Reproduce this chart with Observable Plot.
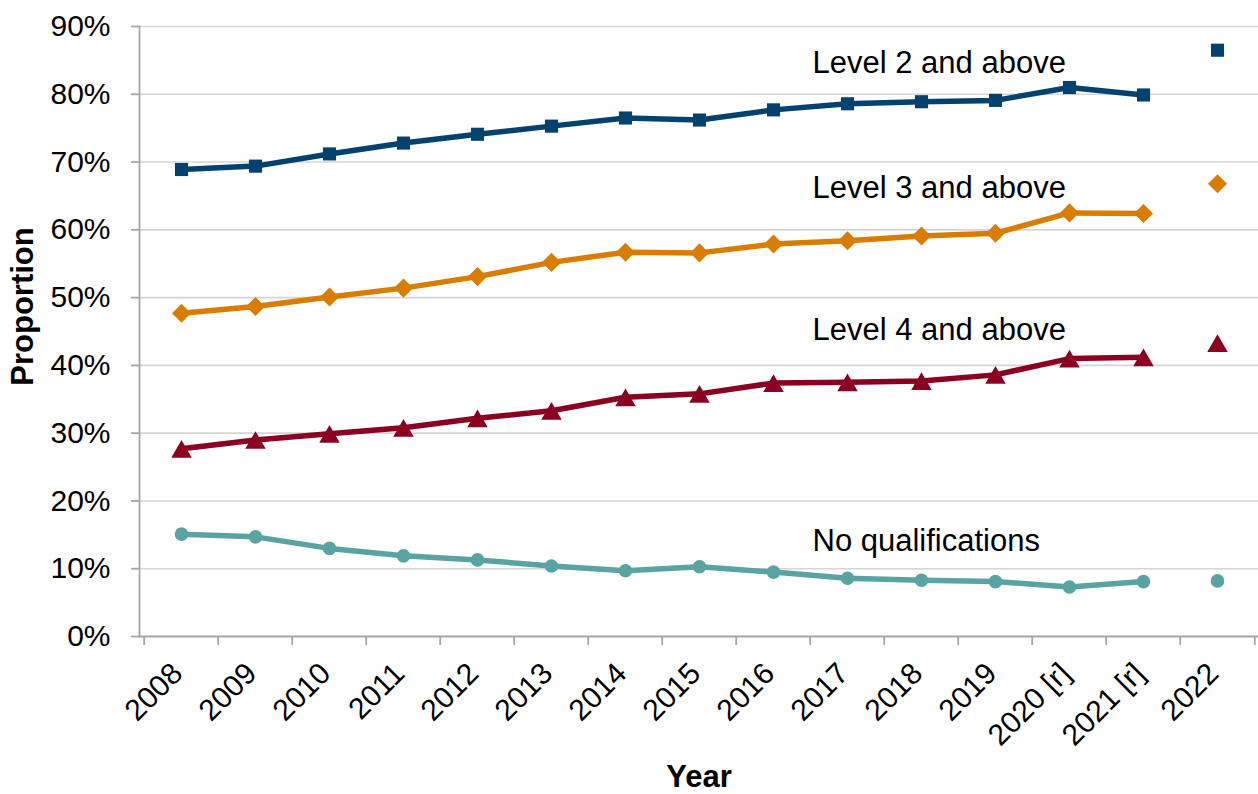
<!DOCTYPE html>
<html>
<head>
<meta charset="utf-8">
<script src="https://cdn.jsdelivr.net/npm/d3@7"></script>
<script src="https://cdn.jsdelivr.net/npm/@observablehq/plot@0.6"></script>
<style>
  html, body { margin: 0; padding: 0; background: #fff; }
  #chart svg { display: block; }
</style>
</head>
<body>
<div id="chart"></div>
<script>
// Survey years (2020 and 2021 revised); 2022 is shown unjoined
const years = ["2008", "2009", "2010", "2011", "2012", "2013", "2014", "2015",
  "2016", "2017", "2018", "2019", "2020 [r]", "2021 [r]", "2022"];

// Proportion of people holding each qualification level
const level2 = [0.689, 0.694, 0.712, 0.728, 0.741, 0.753, 0.765, 0.762, 0.777, 0.786, 0.789, 0.791, 0.810, 0.799, 0.865];
const level3 = [0.477, 0.487, 0.501, 0.514, 0.531, 0.552, 0.567, 0.566, 0.579, 0.584, 0.591, 0.595, 0.625, 0.624, 0.668];
const level4 = [0.277, 0.290, 0.299, 0.308, 0.322, 0.333, 0.353, 0.358, 0.374, 0.375, 0.377, 0.386, 0.410, 0.412, 0.433];
const noQual = [0.151, 0.147, 0.130, 0.119, 0.113, 0.104, 0.097, 0.103, 0.095, 0.086, 0.083, 0.081, 0.073, 0.081, 0.082];

const seriesNames = ["Level 2 and above", "Level 3 and above", "Level 4 and above", "No qualifications"];
const yTicks = [0, 0.1, 0.2, 0.3, 0.4, 0.5, 0.6, 0.7, 0.8, 0.9];

const seriesValues = [level2, level3, level4, noQual];
const seriesStyle = [
  {color: "#03416f", symbol: "square", r: 7.4, dy: 0},
  {color: "#d97d00", symbol: "diamond2", r: 8.6, dy: 0},
  {color: "#8b0020", symbol: "triangle", r: 7.6, dy: 3},
  {color: "#5aa3a3", symbol: "circle", r: 6.8, dy: 0}
];

const rows = seriesNames.map((name, s) => years.map((year, i) => ({
  series: name,
  year,
  value: seriesValues[s][i],
  // 2022 is on a different basis, so it is not joined to the earlier run
  run: year === "2022" ? "2022" : "2008-2021"
})));

const W = 1258, H = 794;
const margin = {top: 26, right: 0, bottom: 158, left: 139};
const step = (W - margin.left - margin.right) / years.length;
const axisGrey = "#a6a6a6";

// Series label anchors in data space
const labelAnchors = [
  {s: 0, year: "2017", value: 0.846},
  {s: 1, year: "2017", value: 0.662},
  {s: 2, year: "2017", value: 0.452},
  {s: 3, year: "2017", value: 0.141}
];

const marks = [
  Plot.gridY(yTicks.slice(1), {stroke: "#d6d6d6", strokeOpacity: 1, strokeWidth: 1.6}),
  Plot.frame({anchor: "left", stroke: axisGrey, strokeWidth: 1.8}),
  Plot.frame({anchor: "bottom", stroke: axisGrey, strokeWidth: 1.8}),
  Plot.axisY(yTicks, {
    tickFormat: d3.format(".0%"), tickSize: 8, tickPadding: 21,
    stroke: axisGrey, strokeWidth: 1.8, fontSize: 30, label: null
  }),
  // category boundary ticks below the baseline
  Plot.axisX(years, {dx: -step / 2, tickSize: 9, text: null, stroke: axisGrey, strokeWidth: 1.8, label: null}),
  Plot.axisX(years.slice(-1), {dx: step / 2, tickSize: 9, text: null, stroke: axisGrey, strokeWidth: 1.8, label: null}),
  Plot.axisX(years, {tickSize: 0, tickRotate: -45, tickPadding: 32, dx: -4, fontSize: 30, label: null})
];

rows.forEach((data, s) => {
  const st = seriesStyle[s];
  marks.push(
    Plot.line(data, {x: "year", y: "value", z: "run", stroke: st.color, strokeWidth: 5.5, strokeLinejoin: "round"}),
    Plot.dot(data, {x: "year", y: "value", symbol: () => st.symbol, r: st.r, fill: st.color, stroke: "none", dy: st.dy})
  );
});

marks.push(
  Plot.text(labelAnchors, {
    x: "year", y: "value", text: d => seriesNames[d.s],
    textAnchor: "start", dx: -35, fontSize: 31, fill: "#000"
  }),
  Plot.text(["Proportion"], {
    frameAnchor: "left", textAnchor: "middle", text: d => d, rotate: -90, dx: -116, dy: -25,
    fontSize: 31, fontWeight: "bold", fill: "#000"
  }),
  Plot.text(["Year"], {
    frameAnchor: "bottom", text: d => d, dy: 150,
    fontSize: 31, fontWeight: "bold", fill: "#000"
  })
);

const chart = Plot.plot({
  width: W,
  height: H,
  marginTop: margin.top,
  marginRight: margin.right,
  marginBottom: margin.bottom,
  marginLeft: margin.left,
  style: {fontFamily: "'Liberation Sans', Arial, sans-serif", color: "#000", background: "#fff", overflow: "visible"},
  x: {type: "point", domain: years, padding: 0.5, axis: null},
  y: {domain: [0, 0.9], axis: null},
  symbol: {type: "identity"},
  marks
});

document.getElementById("chart").append(chart);
</script>
</body>
</html>
